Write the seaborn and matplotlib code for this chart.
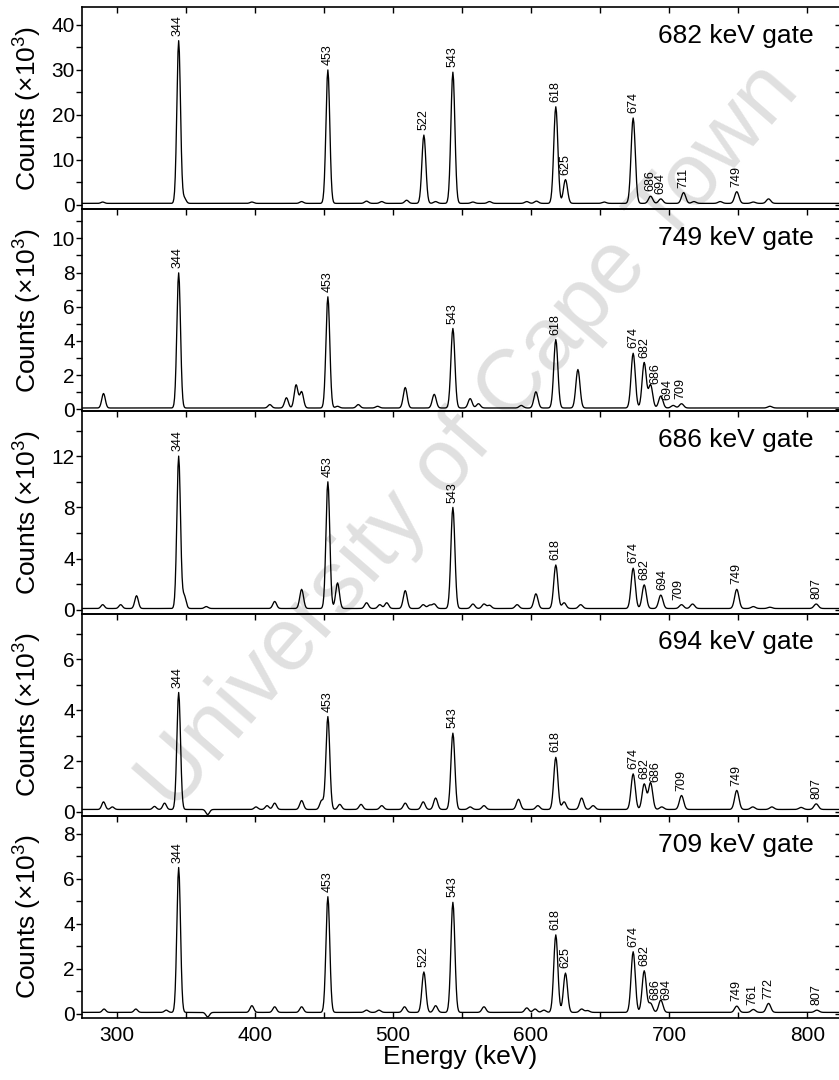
import numpy as np
import pandas as pd
import seaborn as sns
import matplotlib.pyplot as plt
from matplotlib.ticker import MultipleLocator

# -----------------------------------------------------------------
# Data (energy in keV, height in 10^3 counts)
# -----------------------------------------------------------------
gates = ["682", "749", "686", "694", "709"]

g682_energy = [290, 345, 349, 398, 434, 453, 481, 492, 510, 522.5, 531, 543.5, 558, 570,
               597, 604, 618, 625, 653, 674, 686.6, 694, 710.5, 718, 737, 749, 761, 772]
g682_height = [0.3, 36.2, 1.2, 0.3, 0.4, 29.7, 0.5, 0.4, 0.7, 15.2, 0.4, 29.2, 0.3, 0.4,
               0.4, 0.5, 21.5, 5.3, 0.3, 19.0, 1.6, 1.0, 2.4, 0.4, 0.4, 2.6, 0.3, 1.0]
g682_labels = ["344", "453", "522", "543", "618", "625", "674", "686", "694", "711", "749"]
g682_label_x = [344.5, 453, 522.5, 543.5, 618, 625, 674, 686.6, 694, 710.5, 749]

g749_energy = [290.6, 345, 411, 423, 430, 434, 453, 460, 475, 489, 509, 530, 543.5, 556,
               562, 593, 603.6, 618, 634, 674, 682, 686.6, 694, 703, 709, 773]
g749_height = [0.85, 7.9, 0.2, 0.6, 1.35, 0.95, 6.5, 0.1, 0.2, 0.1, 1.2, 0.8, 4.65, 0.55,
               0.25, 0.15, 0.95, 4.0, 2.25, 3.2, 2.65, 1.35, 0.7, 0.15, 0.25, 0.1]
g749_labels = ["344", "453", "543", "618", "674", "682", "686", "694", "709"]
g749_label_x = [344.5, 453, 543.5, 618, 674, 682, 690, 699, 708.5]

g686_energy = [290, 303, 314.5, 345, 349, 365, 414.5, 434, 453, 460, 481, 490.6, 495.6,
               509, 522, 526.6, 530, 543.5, 558, 566, 570, 590, 603.6, 618, 624, 636,
               674, 682, 694, 709, 717, 749, 761, 773, 806.5]
g686_height = [0.3, 0.3, 1.0, 11.9, 1.0, 0.15, 0.55, 1.5, 9.9, 2.0, 0.45, 0.3, 0.45,
               1.4, 0.3, 0.25, 0.35, 7.9, 0.35, 0.35, 0.25, 0.3, 1.15, 3.4, 0.45, 0.3,
               3.15, 1.85, 1.05, 0.3, 0.35, 1.5, 0.15, 0.1, 0.35]
g686_labels = ["344", "453", "543", "618", "674", "682", "694", "709", "749", "807"]
g686_label_x = [344.5, 453, 543.5, 618, 674, 682, 695, 707, 749, 806.5]

g694_energy = [290.6, 297, 327.5, 334.8, 345, 366, 401, 409, 414.5, 434, 448.5, 453,
               461.6, 477, 492, 509, 522, 531, 543.5, 556, 566, 591, 605, 618, 624,
               636.7, 645, 674, 682, 686.6, 694.7, 709, 749, 760.6, 774.4, 795.6, 806.5]
g694_height = [0.3, 0.1, 0.12, 0.25, 4.6, -0.2, 0.1, 0.15, 0.25, 0.35, 0.35, 3.65,
               0.2, 0.2, 0.15, 0.25, 0.3, 0.45, 3.0, 0.1, 0.15, 0.4, 0.15, 2.05, 0.3,
               0.45, 0.15, 1.4, 1.0, 1.05, 0.1, 0.55, 0.75, 0.1, 0.1, 0.08, 0.22]
g694_labels = ["344", "453", "543", "618", "674", "682", "686", "709", "749", "807"]
g694_label_x = [344.5, 453, 543.5, 618, 674, 682, 690, 709, 749, 806.5]

g709_energy = [291, 314, 336, 345, 366, 398, 414.5, 434, 453, 481, 490, 508.5, 522.5,
               531, 543.5, 566, 597, 603, 609.4, 618, 625, 636.7, 641, 674, 682, 686.6,
               694, 749, 761, 772, 807]
g709_height = [0.15, 0.15, 0.1, 6.45, -0.2, 0.3, 0.25, 0.25, 5.15, 0.1, 0.1, 0.25, 1.8,
               0.3, 4.9, 0.25, 0.2, 0.15, 0.1, 3.45, 1.75, 0.15, 0.08, 2.7, 1.85, 0.4,
               0.55, 0.28, 0.13, 0.4, 0.1]
g709_labels = ["344", "453", "522", "543", "618", "625", "674", "682", "686", "694",
               "749", "761", "772", "807"]
g709_label_x = [344.5, 453, 522.5, 543.5, 618, 625, 674, 682, 690, 698,
                749, 760, 772, 807]

baselines = [0.3, 0.08, 0.1, 0.1, 0.05]

panels = [
    (g682_energy, g682_height, g682_labels, g682_label_x),
    (g749_energy, g749_height, g749_labels, g749_label_x),
    (g686_energy, g686_height, g686_labels, g686_label_x),
    (g694_energy, g694_height, g694_labels, g694_label_x),
    (g709_energy, g709_height, g709_labels, g709_label_x),
]

# axis settings per panel: ylim, major, minor
ylims = [(-1.0, 44.0), (-0.12, 11.7), (-0.3, 15.5), (-0.15, 7.8), (-0.2, 8.8)]
ymajor = [10, 2, 4, 2, 2]
yminor = [5, 1, 2, 1, 1]

# -----------------------------------------------------------------
# Style
# -----------------------------------------------------------------
sns.set_theme(style="ticks")
plt.rcParams["font.family"] = ["Liberation Sans", "DejaVu Sans"]
plt.rcParams["mathtext.fontset"] = "custom"
plt.rcParams["mathtext.rm"] = "Liberation Sans"
plt.rcParams["mathtext.it"] = "Liberation Sans:italic"
plt.rcParams["axes.linewidth"] = 1.2
plt.rcParams["axes.facecolor"] = "none"
for key in ["text.color", "axes.labelcolor", "axes.edgecolor", "xtick.color", "ytick.color"]:
    plt.rcParams[key] = "black"

energy = np.arange(275, 823.25, 0.5)


def build_spectrum(centres, heights, base):
    y = np.full_like(energy, base)
    for c, h in zip(centres, heights):
        sig = 1.1 + 0.0006 * c
        y = y + h * np.exp(-0.5 * ((energy - c) / sig) ** 2)
    return y


fig, axes = plt.subplots(5, 1, figsize=(8.39, 10.8), dpi=100, sharex=True)
fig.subplots_adjust(left=0.0977, right=1.0, top=0.9935, bottom=0.0574, hspace=0)

for i, (ax, gate, (cen, hgt, labels, lab_x)) in enumerate(zip(axes, gates, panels)):
    counts = build_spectrum(cen, hgt, baselines[i])
    df = pd.DataFrame({"Energy": energy, "Counts": counts})
    sns.lineplot(data=df, x="Energy", y="Counts", ax=ax, color="black", lw=0.95)

    # peak labels
    for text, lx in zip(labels, lab_x):
        win = np.abs(energy - lx) <= 2.5
        top = counts[win].max()
        ax.annotate(text, (lx, top), xytext=(0, 3.5), textcoords="offset points",
                    rotation=90, ha="center", va="bottom", fontsize=9)

    ax.text(0.966, 0.823, f"{gate} keV gate", transform=ax.transAxes,
            ha="right", va="baseline", fontsize=19)

    ax.set_xlim(275, 823)
    ax.set_ylim(*ylims[i])
    ax.xaxis.set_major_locator(MultipleLocator(100))
    ax.xaxis.set_minor_locator(MultipleLocator(50))
    ax.yaxis.set_major_locator(MultipleLocator(ymajor[i]))
    ax.yaxis.set_minor_locator(MultipleLocator(yminor[i]))

    last = i == len(axes) - 1
    ax.tick_params(axis="x", which="both", direction="in", top=True, bottom=last,
                   length=4.3, width=1.0, labelsize=15, pad=6)
    ax.tick_params(axis="y", which="both", direction="out", left=True, right=False,
                   length=4.3, width=1.0, labelsize=15, pad=0.8)
    ax.spines["right"].set_visible(False)

    # inward ticks on the right edge
    sec = ax.secondary_yaxis("right")
    sec.yaxis.set_major_locator(MultipleLocator(yminor[i]))
    sec.tick_params(direction="in", length=3, width=1.0, labelright=False)
    sec.spines["right"].set_visible(False)

    ax.set_ylabel(r"Counts (×10$^{3}$)", fontsize=19)
    ax.yaxis.set_label_coords(-0.05, 0.5)
    ax.set_xlabel("Energy (keV)" if last else "", fontsize=19)

axes[-1].xaxis.labelpad = 0

fig.text(0.56, 1 - 438 / 1080, "University of Cape Town", rotation=49,
         fontsize=64, color="#e0e0e0", ha="center", va="center", zorder=-1)

fig.savefig("out.png", dpi=100)
